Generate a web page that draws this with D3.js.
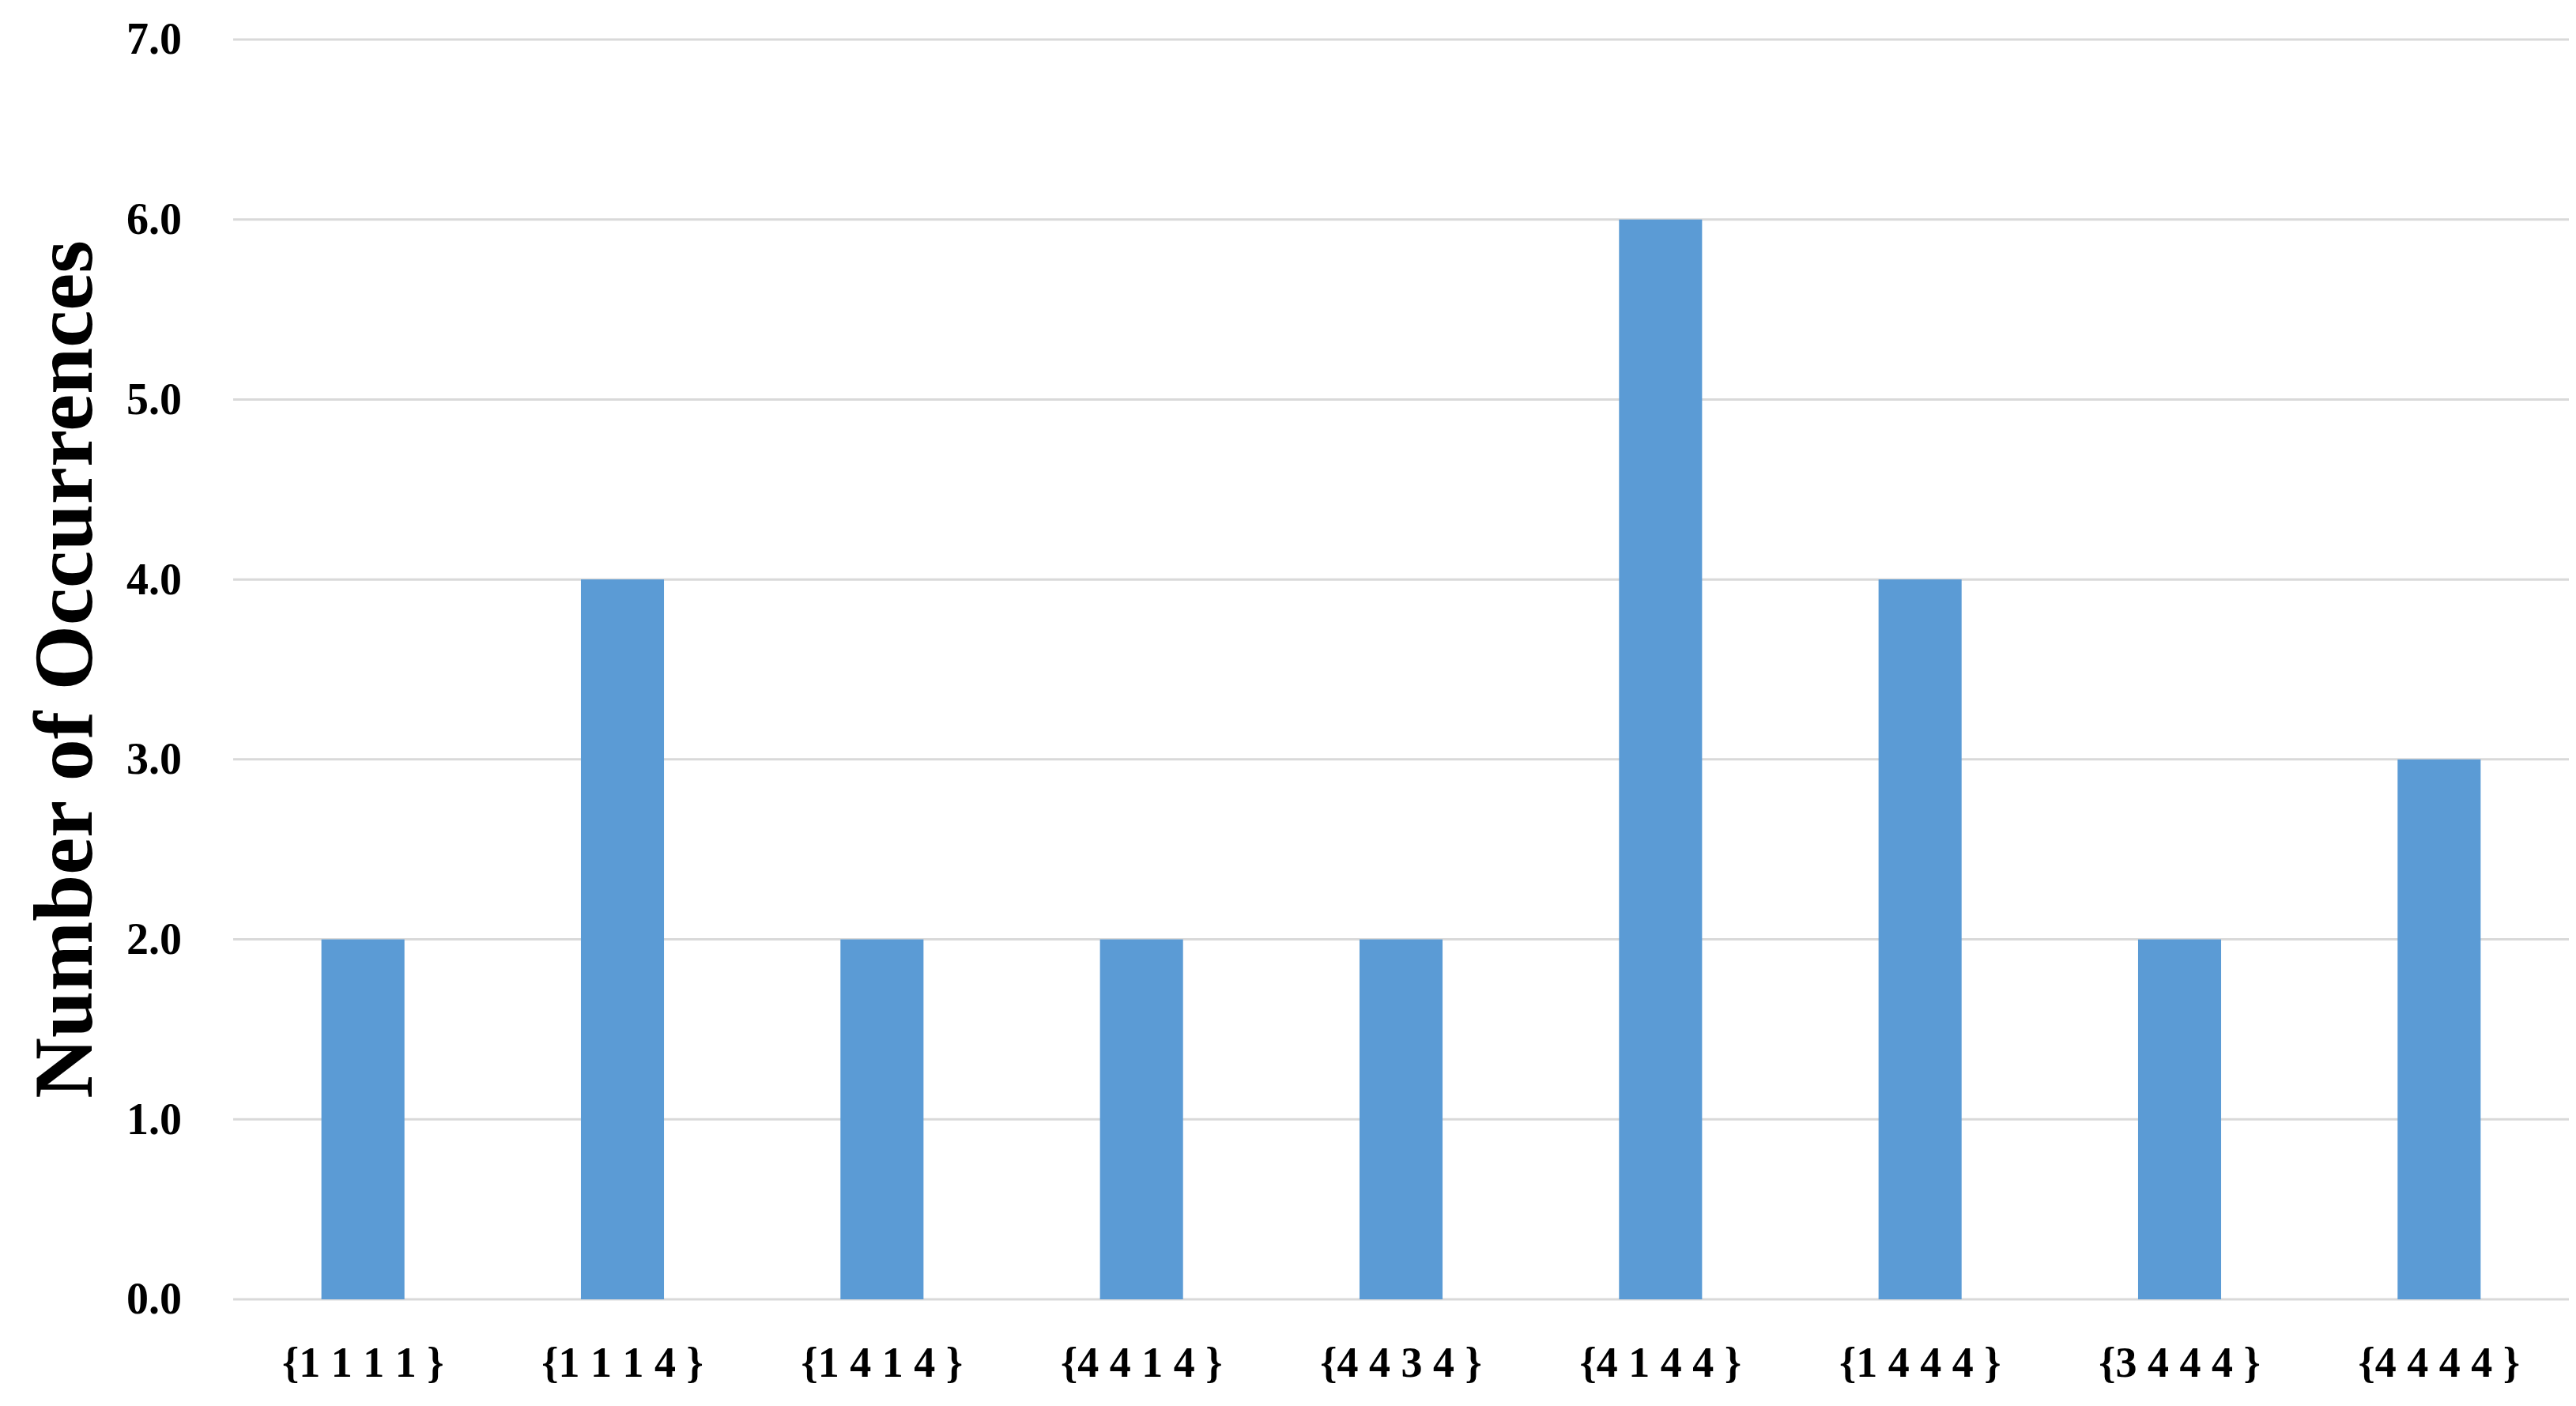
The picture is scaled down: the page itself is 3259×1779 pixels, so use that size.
<!DOCTYPE html>
<html><head><meta charset="utf-8">
<script src="https://cdn.jsdelivr.net/npm/d3@7"></script>
<style>body{margin:0;background:#fff}</style>
</head><body><svg id="chart"></svg>
<script>
const categories = ["{1 1 1 1 }", "{1 1 1 4 }", "{1 4 1 4 }", "{4 4 1 4 }", "{4 4 3 4 }", "{4 1 4 4 }", "{1 4 4 4 }", "{3 4 4 4 }", "{4 4 4 4 }"];
const counts = [2, 4, 2, 2, 2, 6, 4, 2, 3];
const yTicks = [0, 1, 2, 3, 4, 5, 6, 7];

const W = 3259, H = 1779;
const margin = { top: 50, right: 9, bottom: 135, left: 295 };
const width = W - margin.left - margin.right;
const height = H - margin.top - margin.bottom;
const font = "'Liberation Serif', 'DejaVu Serif', serif";

const svg = d3.select("#chart").attr("width", W).attr("height", H);
const chart = svg.append("g").attr("transform", `translate(${margin.left},${margin.top})`);

const x = d3.scaleBand().domain(categories).range([0, width]).paddingInner(0.68).paddingOuter(0.34);
const y = d3.scaleLinear().domain([0, 7]).range([height, 0]);

// gridlines
chart.selectAll(".grid").data(yTicks).join("line")
    .attr("x1", 0).attr("x2", width)
    .attr("y1", d => y(d)).attr("y2", d => y(d))
    .attr("stroke", "#d9d9d9").attr("stroke-width", 3);

chart.selectAll(".bar").data(counts).join("rect")
    .attr("x", (d, i) => x(categories[i]))
    .attr("width", x.bandwidth())
    .attr("y", d => y(d))
    .attr("height", d => height - y(d))
    .attr("fill", "#5b9bd5");

// y axis
const yAxis = chart.append("g").call(d3.axisLeft(y).tickValues(yTicks).tickSize(0).tickPadding(65));
yAxis.select(".domain").remove();
yAxis.selectAll("text").attr("font-family", font).attr("font-size", 56).attr("font-weight", "bold").attr("fill", "#000");

// x axis
const xAxis = chart.append("g").attr("transform", `translate(0,${height})`)
    .call(d3.axisBottom(x).tickSize(0).tickPadding(60));
xAxis.select(".domain").remove();
xAxis.selectAll("text").attr("font-family", font).attr("font-size", 54).attr("font-weight", "bold").attr("fill", "#000");

svg.append("text")
    .attr("transform", `translate(80,${margin.top + height / 2}) rotate(-90)`)
    .attr("text-anchor", "middle").attr("dominant-baseline", "central")
    .attr("font-family", font).attr("font-size", 106).attr("font-weight", "bold")
    .text("Number of Occurrences");
</script></body></html>
